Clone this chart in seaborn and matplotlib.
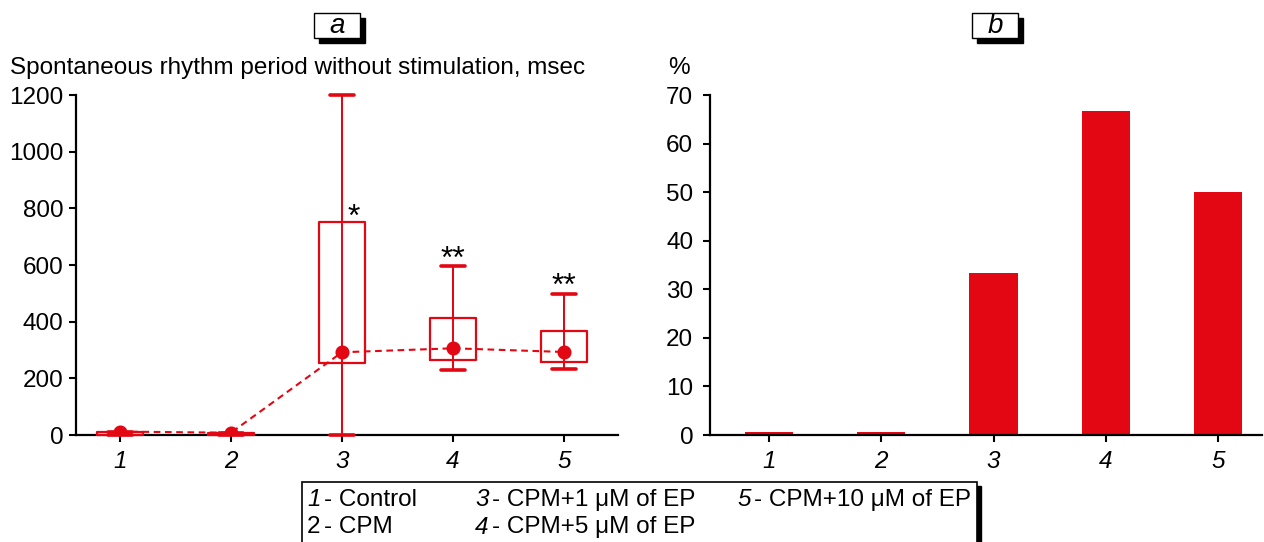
import matplotlib
matplotlib.use("Agg")
import matplotlib.pyplot as plt
from matplotlib.patches import Rectangle
import seaborn as sns

# groups and values
groups = ["1", "2", "3", "4", "5"]

# panel a: spontaneous rhythm period, msec
period_mean = [12, 8, 292, 306, 293]
period_q1 = [0, 0, 255, 265, 257]
period_q3 = [12, 8, 753, 414, 366]
period_lo = [0, 0, 0, 228, 233]
period_hi = [12, 8, 1200, 595, 498]
stars = ["", "", "*", "**", "**"]

# panel b: share of preparations, %
percent = [0.6, 0.6, 33.3, 66.7, 50.0]

legend_nums = ["1", "2", "3", "4", "5"]
legend_texts = ["- Control", "- CPM", "- CPM+1 \u03bcM of EP",
                "- CPM+5 \u03bcM of EP", "- CPM+10 \u03bcM of EP"]

RED = "#E30613"
W, H = 1264, 542

sns.set_style("white")
plt.rcParams["font.family"] = ["Liberation Sans", "DejaVu Sans"]
plt.rcParams["text.color"] = "black"
plt.rcParams["xtick.color"] = "black"
plt.rcParams["ytick.color"] = "black"
plt.rcParams["axes.labelcolor"] = "black"

FS = 17.5


def fx(x):
    return x / W


def fy(y):
    return 1 - y / H


fig = plt.figure(figsize=(W / 100, H / 100), dpi=100)
ax_a = fig.add_axes([fx(76), fy(435), (618 - 76) / W, (435 - 95) / H])
ax_b = fig.add_axes([fx(710), fy(435), (1262 - 710) / W, (435 - 95) / H])

# ---- panel a ----
sns.pointplot(x=groups, y=period_mean, color=RED, linestyles="--",
              markers="o", errorbar=None, ax=ax_a,
              markersize=9, linewidth=1.5, zorder=5)
for ln in ax_a.lines:
    ln.set_dashes((3.2, 2.2))

stats = []
for i in range(len(groups)):
    stats.append({"med": period_mean[i], "q1": period_q1[i], "q3": period_q3[i],
                  "whislo": period_lo[i], "whishi": period_hi[i], "fliers": []})
parts = ax_a.bxp(stats, positions=range(len(groups)), widths=0.42,
                 manage_ticks=False, showfliers=False, capwidths=0.21,
                 boxprops=dict(color=RED, linewidth=1.6),
                 whiskerprops=dict(color=RED, linewidth=1.4),
                 capprops=dict(color=RED, linewidth=2.6),
                 medianprops=dict(linewidth=0))
for key in ("boxes", "whiskers", "caps"):
    for art in parts[key]:
        art.set_clip_on(False)
        art.set_zorder(4)
ax_a.vlines(range(len(groups)), period_lo, period_hi, color=RED,
            linewidth=1.4, zorder=4)

for i, s in enumerate(stars):
    if not s:
        continue
    if period_hi[i] >= 1200:
        ax_a.text(i + 0.11, period_q3[i] - 15, s, ha="center", va="baseline",
                  fontsize=23)
    else:
        ax_a.text(i, period_hi[i] - 5, s, ha="center", va="baseline",
                  fontsize=23)

ax_a.set_ylim(0, 1200)
ax_a.set_yticks(range(0, 1201, 200))
ax_a.set_xlim(-0.396, 4.486)

# ---- panel b ----
sns.barplot(x=groups, y=percent, color=RED, saturation=1, width=0.43,
            linewidth=0, ax=ax_b)
ax_b.set_ylim(0, 70)
ax_b.set_yticks(range(0, 71, 10))
ax_b.set_xlim(-0.525, 4.39)

for ax, ypad in ((ax_a, 4), (ax_b, 7)):
    sns.despine(ax=ax)
    ax.set_xlabel("")
    ax.set_ylabel("")
    ax.set_xticks(range(len(groups)))
    ax.set_xticklabels(groups, fontstyle="italic", fontsize=FS)
    ax.tick_params(axis="y", labelsize=FS, direction="out", length=5,
                   width=1.5, pad=ypad, left=True)
    ax.tick_params(axis="x", direction="out", length=5, width=1.5, pad=6,
                   bottom=True)
    for side in ("left", "bottom"):
        ax.spines[side].set_linewidth(1.6)
        ax.spines[side].set_color("black")
        ax.spines[side].set_zorder(3)

# axis titles
fig.text(fx(10), fy(68), "Spontaneous rhythm period without stimulation, msec",
         ha="left", va="center", fontsize=FS)
fig.text(fx(668), fy(68), "%", ha="left", va="center", fontsize=FS)

# panel letters in shadowed boxes
for letter, x0 in (("a", 314), ("b", 972)):
    fig.add_artist(Rectangle((fx(x0 + 5), fy(43)), 46 / W, 25 / H,
                             transform=fig.transFigure, facecolor="black",
                             edgecolor="black"))
    fig.add_artist(Rectangle((fx(x0), fy(38)), 46 / W, 25 / H,
                             transform=fig.transFigure, facecolor="white",
                             edgecolor="black", linewidth=1))
    fig.text(fx(x0 + 23), fy(26), letter, ha="center", va="center",
             fontsize=20, fontstyle="italic")

# legend box at the bottom
fig.add_artist(Rectangle((fx(306), fy(560)), (981 - 306) / W, 74 / H,
                         transform=fig.transFigure, facecolor="black",
                         edgecolor="black"))
fig.add_artist(Rectangle((fx(302), fy(560)), (977 - 302) / W, 78 / H,
                         transform=fig.transFigure, facecolor="white",
                         edgecolor="black", linewidth=1.2))
spots = [(307, 500), (307, 527), (475, 500), (475, 527), (737, 500)]
for num, txt, (x, y) in zip(legend_nums, legend_texts, spots):
    style = "normal" if num == "2" else "italic"
    fig.text(fx(x), fy(y), num, ha="left", va="center", fontsize=FS,
             fontstyle=style)
    fig.text(fx(x + 17), fy(y), txt, ha="left", va="center", fontsize=FS)

fig.savefig("out.png", dpi=100)
